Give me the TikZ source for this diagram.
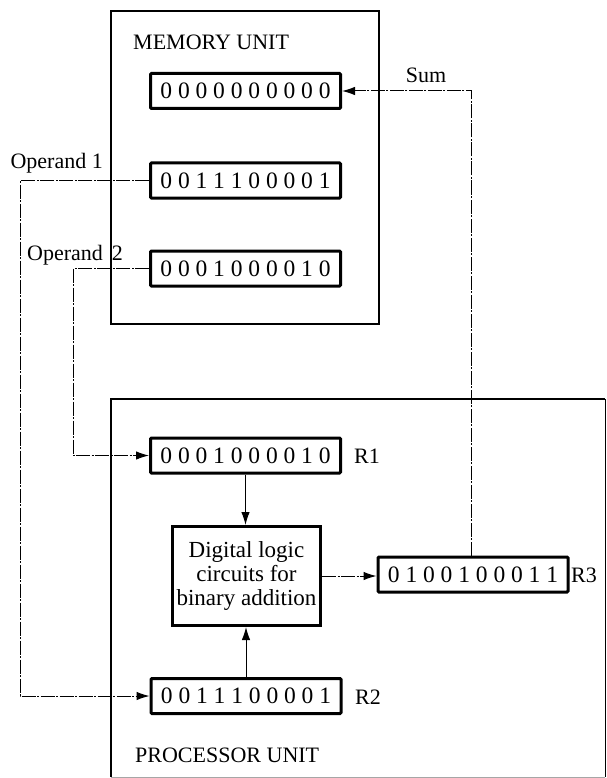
\documentclass[tikz,border=0pt]{standalone}
\usepackage{fontspec}
\setmainfont{Liberation Serif}
\usetikzlibrary{arrows.meta}
\newcommand\regdigits[1]{{\fontsize{23.5}{24}\selectfont\xregdig#1\relax}}
\def\xregdig#1{\ifx#1\relax\else\makebox[17.6pt]{#1}\expandafter\xregdig\fi}
\begin{document}
\begin{tikzpicture}[x=1pt,y=-1pt,
  font=\fontsize{22}{24}\selectfont,
  unitbox/.style={draw,line width=2.8pt,inner sep=0pt},
  regbox/.style={draw,line width=3pt,rounded corners=1pt,minimum width=190pt,minimum height=35pt,inner sep=0pt},
  lbl/.style={inner sep=0pt},
  conn/.style={line width=1pt,dash pattern=on 14pt off 1.5pt on 2pt off 1.5pt},
  solidc/.style={line width=1pt},
  tip/.style={-{Latex[length=13pt,width=8.5pt]}}
]
\useasboundingbox (0,0) rectangle (606,778);
% memory unit
\node[unitbox,minimum width=268pt,minimum height=313pt] (mem) at (245,167.5) {};
\node[lbl,anchor=west] (memt) at (133,42) {MEMORY UNIT};
\node[regbox] (m0) at (245.5,91) {\regdigits{0000000000}};
\node[regbox] (m1) at (245.5,180.5) {\regdigits{0011100001}};
\node[regbox] (m2) at (245.5,268.5) {\regdigits{0001000010}};
% processor unit
\coordinate (ptl) at (111,399);
\coordinate (ptr) at (605,399);
\coordinate (pbl) at (111,777);
\coordinate (pbr) at (605,777);
\draw[line width=2.8pt] (pbl) -- (ptl) -- (ptr);
\draw[line width=1pt] (ptr) -- (pbr);
\draw[line width=0.8pt,black!35] (pbl) -- (pbr);
\node[lbl,anchor=west] (proct) at (135,755) {PROCESSOR UNIT};
\node[regbox] (r1) at (245.5,455.5) {\regdigits{0001000010}};
\node[lbl,anchor=west] (r1l) at (354,456) {R1};
\node[draw,line width=3pt,minimum width=148pt,minimum height=99pt,inner sep=0pt,align=center,font=\fontsize{23}{24}\selectfont] (logic) at (246.5,576) {Digital logic\\circuits for\\binary addition};
\node[regbox] (r3) at (473,574.5) {\regdigits{0100100011}};
\node[lbl,anchor=west] (r3l) at (571,575) {R3};
\node[regbox] (r2) at (246,696) {\regdigits{0011100001}};
\node[lbl,anchor=west] (r2l) at (355,697) {R2};
% labels
\node[lbl] (sum) at (426,75) {Sum};
\node[lbl,anchor=east] (op1) at (103,163) {Operand 1};
\node[lbl,anchor=west] (op2) at (27,255) {Operand\hspace{9pt}2};
% connectors
\coordinate (sc) at (471,91);
\coordinate (o1) at (20,180.5);
\coordinate (o2) at (73,268.5);
\draw[conn,tip] (sc |- r3.north) -- (sc) -- (m0.east);
\draw[conn,tip] (m1.west) -- (o1) -- (o1 |- r2.west) -- (r2.west);
\draw[conn,tip] (m2.west) -- (o2) -- (o2 |- r1.west) -- (r1.west);
\draw[solidc,tip] (r1.south) -- (r1.south |- logic.north);
\draw[solidc,tip] (r2.north) -- (r2.north |- logic.south);
\draw[conn,tip] (logic.east) -- (logic.east -| r3.west);
\end{tikzpicture}
\end{document}
